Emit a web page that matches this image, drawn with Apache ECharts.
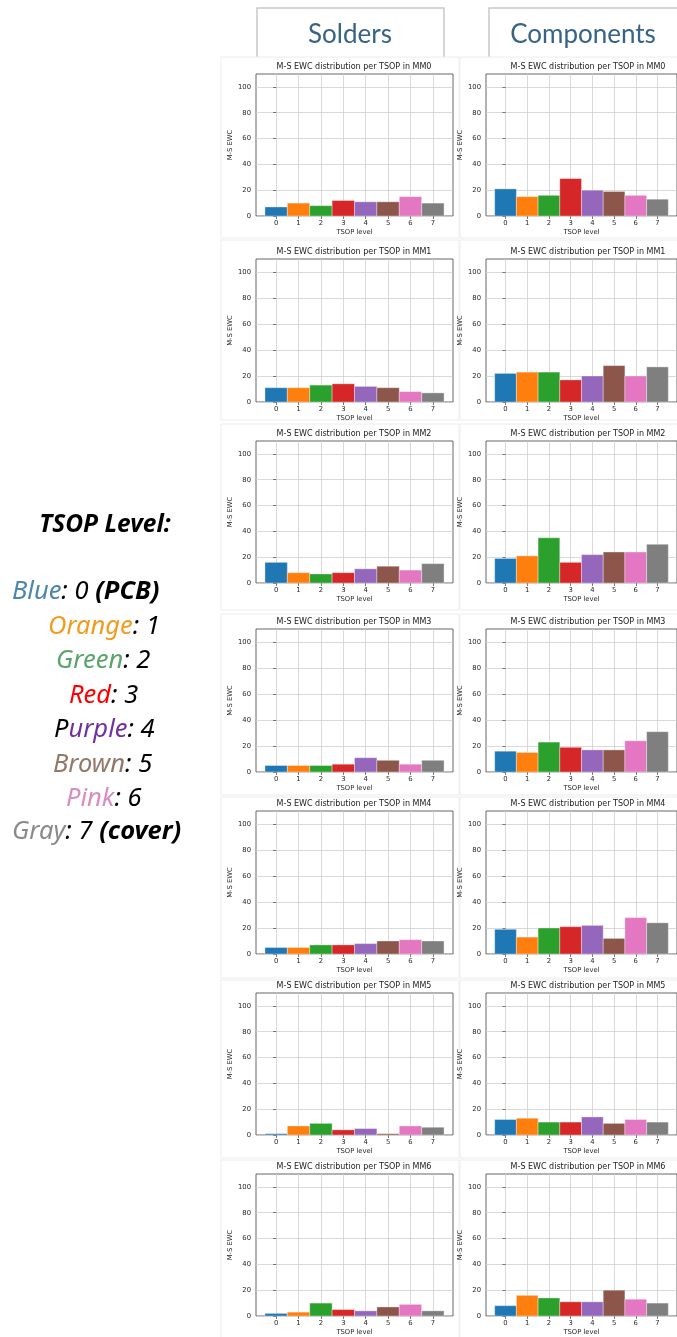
<!DOCTYPE html>
<html>
<head>
<meta charset="utf-8">
<script src="https://cdn.jsdelivr.net/npm/echarts@6/dist/echarts.min.js"></script>
<style>
  html, body { margin: 0; padding: 0; background: #fff; }
  #main { width: 677px; height: 1337px; }
</style>
</head>
<body>
<div id="main"></div>
<script>
// TSOP levels on the x axis and the y tick labels
const levels = [0, 1, 2, 3, 4, 5, 6, 7];
const yTicks = [0, 20, 40, 60, 80, 100];
const mmNames = ['MM0', 'MM1', 'MM2', 'MM3', 'MM4', 'MM5', 'MM6'];

// M-S EWC per TSOP level, left column (solders)
const soldersMM0 = [7, 10, 8, 12, 11, 11, 15, 10];
const soldersMM1 = [11, 11, 13, 14, 12, 11, 8, 7];
const soldersMM2 = [16, 8, 7, 8, 11, 13, 10, 15];
const soldersMM3 = [5, 5, 5, 6, 11, 9, 6, 9];
const soldersMM4 = [5, 5, 7, 7, 8, 10, 11, 10];
const soldersMM5 = [1, 7, 9, 4, 5, 1, 7, 6];
const soldersMM6 = [2, 3, 10, 5, 4, 7, 9, 4];

// right column (components)
const componentsMM0 = [21, 15, 16, 29, 20, 19, 16, 13];
const componentsMM1 = [22, 23, 23, 17, 20, 28, 20, 27];
const componentsMM2 = [19, 21, 35, 16, 22, 24, 24, 30];
const componentsMM3 = [16, 15, 23, 19, 17, 17, 24, 31];
const componentsMM4 = [19, 13, 20, 21, 22, 12, 28, 24];
const componentsMM5 = [12, 13, 10, 10, 14, 9, 12, 10];
const componentsMM6 = [8, 16, 14, 11, 11, 20, 13, 10];

const soldersRows = [soldersMM0, soldersMM1, soldersMM2, soldersMM3, soldersMM4, soldersMM5, soldersMM6];
const componentsRows = [componentsMM0, componentsMM1, componentsMM2, componentsMM3, componentsMM4, componentsMM5, componentsMM6];

// matplotlib tab10
const levelColors = ['#1f77b4', '#ff7f0e', '#2ca02c', '#d62728', '#9467bd', '#8c564b', '#e377c2', '#7f7f7f'];

const chart = echarts.init(document.getElementById('main'), null, { renderer: 'canvas' });

const mplFont = 'DejaVu Sans';
const tickSize = 6.8;
const rowTops = [74, 259, 441, 629, 811, 993, 1174];
const rowBottoms = [216, 402, 583, 772, 954, 1135, 1317];
const colLefts = [256, 486];
const titleCenters = [354, 588];
const plotWidth = 197;

const grids = [], xAxes = [], yAxes = [], series = [], titles = [];

function renderBar(params, api) {
  const x = api.value(0);
  const y = api.value(1);
  const p0 = api.coord([x - 0.5, y]);
  const p1 = api.coord([x + 0.5, 0]);
  return {
    type: 'rect',
    shape: { x: p0[0], y: p0[1], width: p1[0] - p0[0], height: p1[1] - p0[1] },
    style: { fill: levelColors[x], stroke: 'rgba(255,255,255,0.35)', lineWidth: 1 }
  };
}

mmNames.forEach(function (mm, r) {
  [soldersRows[r], componentsRows[r]].forEach(function (values, c) {
    const idx = grids.length;
    grids.push({
      left: colLefts[c], top: rowTops[r], width: plotWidth, height: rowBottoms[r] - rowTops[r],
      show: true, backgroundColor: '#fff', borderColor: '#555', borderWidth: 0.9
    });
    xAxes.push({
      type: 'value', gridIndex: idx, min: -0.9, max: 7.9,
      name: 'TSOP level', nameLocation: 'middle', nameGap: 13,
      nameTextStyle: { fontSize: tickSize, color: '#262626', fontFamily: mplFont },
      axisLine: { show: false },
      axisTick: { show: true, length: 3, customValues: levels, lineStyle: { color: '#555', width: 0.8 } },
      axisLabel: { customValues: levels, fontSize: tickSize, color: '#262626', margin: 4, fontFamily: mplFont },
      splitLine: { show: true, lineStyle: { color: '#cfcfcf', width: 0.8 } }
    });
    yAxes.push({
      type: 'value', gridIndex: idx, min: 0, max: 110,
      name: 'M-S EWC', nameLocation: 'middle', nameGap: 21, nameRotate: 90,
      nameTextStyle: { fontSize: tickSize, color: '#262626', fontFamily: mplFont },
      axisLine: { show: false },
      axisTick: { show: true, length: 3, customValues: yTicks, lineStyle: { color: '#555', width: 0.8 } },
      axisLabel: { customValues: yTicks, fontSize: tickSize, color: '#262626', margin: 5, fontFamily: mplFont },
      splitLine: { show: true, lineStyle: { color: '#cfcfcf', width: 0.8 } }
    });
    series.push({
      type: 'custom', xAxisIndex: idx, yAxisIndex: idx,
      data: values.map(function (v, i) { return [levels[i], v]; }),
      encode: { x: 0, y: 1 },
      renderItem: renderBar
    });
    titles.push({
      text: 'M-S EWC distribution per TSOP in ' + mm,
      left: titleCenters[c], top: rowTops[r] - 11.5, textAlign: 'center', padding: 0,
      textStyle: { fontSize: 8, fontWeight: 'normal', color: '#1a1a1a', fontFamily: mplFont }
    });
  });
});

// faint frames of the pasted chart images
const panelTops = [57, 240, 424, 614, 797, 980, 1160];
const panelBottoms = [238, 420, 610, 795, 978, 1158, 1340];
const panels = [];
panelTops.forEach(function (t, r) {
  panels.push({ type: 'rect', z: -5, shape: { x: 221, y: t, width: 238, height: panelBottoms[r] - t },
    style: { fill: '#fff', stroke: '#ececec', lineWidth: 1 } });
  panels.push({ type: 'rect', z: -5, shape: { x: 460, y: t, width: 220, height: panelBottoms[r] - t },
    style: { fill: '#fff', stroke: '#ececec', lineWidth: 1 } });
});

const legendFont = 'Noto Sans';
const legendSize = 25.5;
function legendLine(x, y, parts) {
  const base = { fontStyle: 'italic', fontSize: legendSize, fontFamily: legendFont };
  function s(fill, extra) { return Object.assign({ fill: fill }, base, extra || {}); }
  return {
    type: 'text', z: 10, x: x, y: y,
    style: {
      text: parts.map(function (p) { return '{' + p[0] + '|' + p[1] + '}'; }).join(''),
      verticalAlign: 'middle', align: 'left',
      rich: {
        blue: s('#4a87aa'),
        orange: s('#f29c1f'),
        green: s('#5aa46a'),
        red: s('#ff0000'),
        purple: s('#7030a0'),
        brown: s('#927867'),
        pink: s('#d98cc2'),
        gray: s('#8a8a8a'),
        k: s('#000'),
        b: s('#000', { fontWeight: 'bold' })
      }
    }
  };
}

const option = {
  animation: false,
  backgroundColor: '#fff',
  title: titles,
  grid: grids,
  xAxis: xAxes,
  yAxis: yAxes,
  series: series,
  graphic: [
    { type: 'rect', z: -10, shape: { x: 257, y: 8, width: 187, height: 60 },
      style: { fill: '#fff', stroke: '#c8c8c8', lineWidth: 1.5 } },
    { type: 'rect', z: -10, shape: { x: 489, y: 8, width: 190, height: 60 },
      style: { fill: '#fff', stroke: '#c8c8c8', lineWidth: 1.5 } },
    { type: 'text', z: 10, x: 350, y: 35, style: { text: 'Solders', align: 'center', verticalAlign: 'middle',
      fill: '#376485', fontSize: 26, fontFamily: 'Lato' } },
    { type: 'text', z: 10, x: 583, y: 35, style: { text: 'Components', align: 'center', verticalAlign: 'middle',
      fill: '#376485', fontSize: 26, fontFamily: 'Lato' } },
    { type: 'text', z: 10, x: 105, y: 525, style: { text: 'TSOP Level:', align: 'center', verticalAlign: 'middle',
      fill: '#000', fontSize: 24.5, fontStyle: 'italic', fontWeight: 'bold', fontFamily: legendFont } },
    legendLine(12, 592, [['blue', 'Blue'], ['k', ': 0 '], ['b', '(PCB)']]),
    legendLine(48, 627, [['orange', 'Orange'], ['k', ': 1']]),
    legendLine(56, 661, [['green', 'Green'], ['k', ': 2']]),
    legendLine(69, 696, [['red', 'Red'], ['k', ': 3']]),
    legendLine(54, 730, [['k', 'P'], ['purple', 'urple'], ['k', ': 4']]),
    legendLine(53, 765, [['brown', 'Brown'], ['k', ': 5']]),
    legendLine(66, 799, [['pink', 'Pink'], ['k', ': 6']]),
    legendLine(12, 832, [['gray', 'Gray'], ['k', ': 7 '], ['b', '(cover)']])
  ].concat(panels)
};

chart.setOption(option);
</script>
</body>
</html>
